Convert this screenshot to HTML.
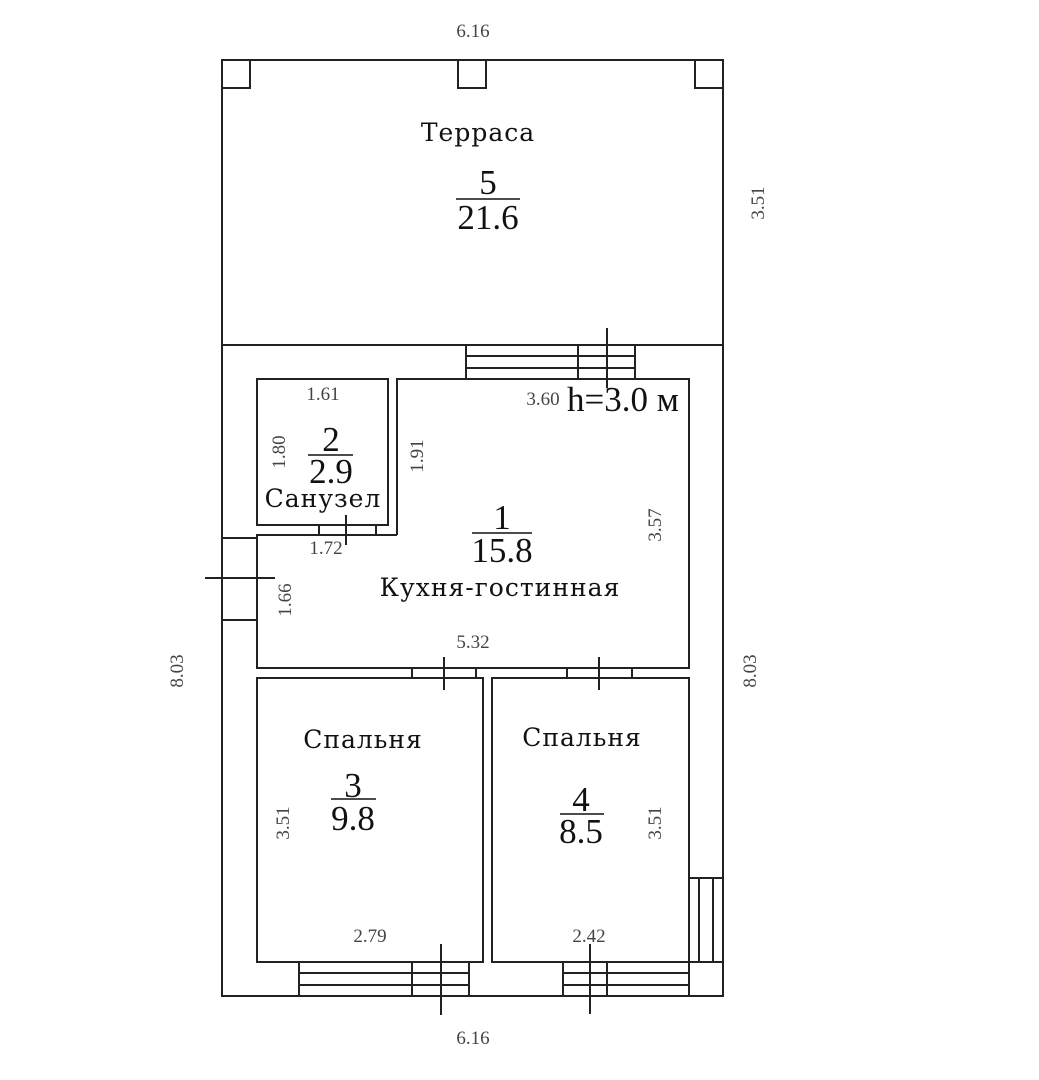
<!DOCTYPE html>
<html><head><meta charset="utf-8"><style>
html,body{margin:0;padding:0;background:#fff;}
svg{display:block}
.l{fill:none;stroke:#222;stroke-width:2}
.d{font-family:"Liberation Serif",serif;font-size:19px;fill:#444}
.t{font-family:"DejaVu Serif","Liberation Serif",serif;font-size:25px;fill:#111;letter-spacing:1px}
.n{font-family:"Liberation Serif",serif;font-size:35px;fill:#111}
</style></head><body>
<svg width="1039" height="1080" viewBox="0 0 1039 1080" xmlns="http://www.w3.org/2000/svg">
<rect class="l" x="222" y="60" width="501" height="936"/>
<line class="l" x1="222" y1="345" x2="723" y2="345"/>
<rect class="l" x="222" y="60" width="28" height="28"/>
<rect class="l" x="458" y="60" width="28" height="28"/>
<rect class="l" x="695" y="60" width="28" height="28"/>
<rect class="l" x="466" y="345" width="169" height="34" style="fill:#fff"/>
<line class="l" x1="466" y1="356" x2="635" y2="356"/>
<line class="l" x1="466" y1="368" x2="635" y2="368"/>
<line class="l" x1="578" y1="345" x2="578" y2="379"/>
<line class="l" x1="607" y1="328" x2="607" y2="388"/>
<rect class="l" x="257" y="379" width="131" height="146"/>
<polyline class="l" points="397,535 397,379 689,379 689,668 257,668 257,535 397,535"/>
<rect class="l" x="319" y="525" width="57" height="10" style="fill:#fff"/>
<line class="l" x1="346" y1="515" x2="346" y2="545"/>
<rect class="l" x="222" y="538" width="35" height="82" style="fill:#fff"/>
<line class="l" x1="205" y1="578" x2="275" y2="578"/>
<rect class="l" x="257" y="678" width="226" height="284"/>
<rect class="l" x="492" y="678" width="197" height="284"/>
<rect class="l" x="412" y="668" width="64" height="10" style="fill:#fff"/>
<line class="l" x1="444" y1="657" x2="444" y2="690"/>
<rect class="l" x="567" y="668" width="65" height="10" style="fill:#fff"/>
<line class="l" x1="599" y1="657" x2="599" y2="690"/>
<rect class="l" x="299" y="962" width="170" height="34" style="fill:#fff"/>
<line class="l" x1="299" y1="973" x2="469" y2="973"/>
<line class="l" x1="299" y1="985" x2="469" y2="985"/>
<line class="l" x1="412" y1="962" x2="412" y2="996"/>
<line class="l" x1="441" y1="944" x2="441" y2="1015"/>
<rect class="l" x="563" y="962" width="126" height="34" style="fill:#fff"/>
<line class="l" x1="563" y1="973" x2="689" y2="973"/>
<line class="l" x1="563" y1="985" x2="689" y2="985"/>
<line class="l" x1="607" y1="962" x2="607" y2="996"/>
<line class="l" x1="590" y1="944" x2="590" y2="1014"/>
<rect class="l" x="689" y="878" width="34" height="84" style="fill:#fff"/>
<line class="l" x1="699" y1="878" x2="699" y2="962"/>
<line class="l" x1="713" y1="878" x2="713" y2="962"/>
<text class="d" x="473" y="37" text-anchor="middle">6.16</text>
<text class="d" x="473" y="1044" text-anchor="middle">6.16</text>
<text class="d" transform="translate(764,203) rotate(-90)" text-anchor="middle">3.51</text>
<text class="d" transform="translate(183,671) rotate(-90)" text-anchor="middle">8.03</text>
<text class="d" transform="translate(756,671) rotate(-90)" text-anchor="middle">8.03</text>
<text class="d" x="323" y="400" text-anchor="middle">1.61</text>
<text class="d" transform="translate(285,452) rotate(-90)" text-anchor="middle">1.80</text>
<text class="d" transform="translate(423,456) rotate(-90)" text-anchor="middle">1.91</text>
<text class="d" x="326" y="554" text-anchor="middle">1.72</text>
<text class="d" transform="translate(291,600) rotate(-90)" text-anchor="middle">1.66</text>
<text class="d" transform="translate(661,525) rotate(-90)" text-anchor="middle">3.57</text>
<text class="d" x="543" y="405" text-anchor="middle">3.60</text>
<text class="d" x="473" y="648" text-anchor="middle">5.32</text>
<text class="d" transform="translate(289,823) rotate(-90)" text-anchor="middle">3.51</text>
<text class="d" transform="translate(661,823) rotate(-90)" text-anchor="middle">3.51</text>
<text class="d" x="370" y="942" text-anchor="middle">2.79</text>
<text class="d" x="589" y="942" text-anchor="middle">2.42</text>
<text class="n" x="567" y="411" font-size="37">h=3.0 м</text>
<text class="t" x="478" y="141" text-anchor="middle">Терраса</text>
<text class="n" x="488" y="194" text-anchor="middle">5</text>
<line x1="456" y1="199" x2="520" y2="199" stroke="#111" stroke-width="1.5"/>
<text class="n" x="488" y="229" text-anchor="middle">21.6</text>
<text class="n" x="331" y="451" text-anchor="middle">2</text>
<line x1="308" y1="455" x2="353" y2="455" stroke="#111" stroke-width="1.5"/>
<text class="n" x="331" y="483" text-anchor="middle">2.9</text>
<text class="t" x="323" y="507" text-anchor="middle">Санузел</text>
<text class="n" x="502" y="529" text-anchor="middle">1</text>
<line x1="472" y1="533" x2="532" y2="533" stroke="#111" stroke-width="1.5"/>
<text class="n" x="502" y="562" text-anchor="middle">15.8</text>
<text class="t" x="500" y="596" text-anchor="middle">Кухня-гостинная</text>
<text class="t" x="363" y="748" text-anchor="middle">Спальня</text>
<text class="n" x="353" y="797" text-anchor="middle">3</text>
<line x1="331" y1="799" x2="376" y2="799" stroke="#111" stroke-width="1.5"/>
<text class="n" x="353" y="830" text-anchor="middle">9.8</text>
<text class="t" x="582" y="746" text-anchor="middle">Спальня</text>
<text class="n" x="581" y="811" text-anchor="middle">4</text>
<line x1="560" y1="814" x2="604" y2="814" stroke="#111" stroke-width="1.5"/>
<text class="n" x="581" y="843" text-anchor="middle">8.5</text>
</svg>
</body></html>
